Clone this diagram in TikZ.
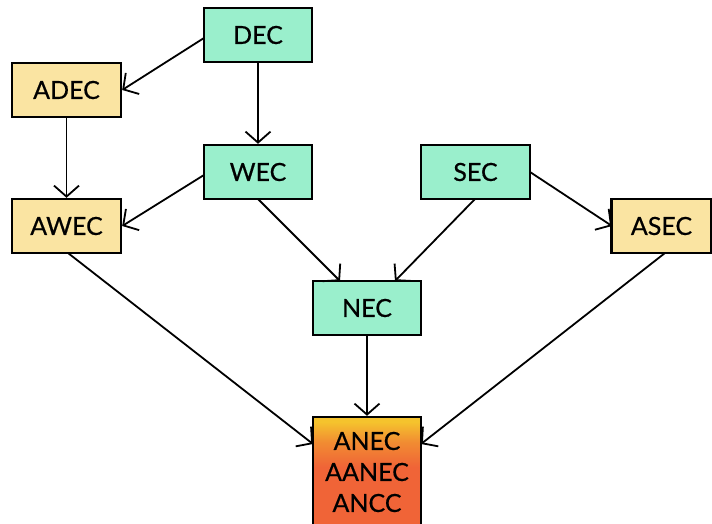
\documentclass[tikz,border=0pt]{standalone}
\usepackage{fontspec}
\setmainfont{Lato}[FakeBold=0.5]
\usetikzlibrary{arrows.meta}
\definecolor{gbox}{RGB}{154,239,204}
\definecolor{ybox}{RGB}{250,228,162}
\definecolor{otop}{RGB}{245,195,45}
\definecolor{omid}{RGB}{241,140,50}
\definecolor{obot}{RGB}{240,100,55}
\pgfdeclareverticalshading{anecshade}{100bp}{color(0bp)=(obot); color(25bp)=(obot); color(55bp)=(obot); color(65bp)=(omid); color(73bp)=(otop); color(100bp)=(otop)}
\begin{document}
\begin{tikzpicture}[x=1pt,y=-1pt,
  base/.style={draw=black,line width=2.4pt,minimum width=108pt,minimum height=54pt,inner sep=0pt,font=\fontsize{25}{29}\selectfont},
  gnode/.style={base,fill=gbox},
  ynode/.style={base,fill=ybox},
  arr/.style={-{Straight Barb[length=11pt,width=25pt,line width=1.8pt]},line width=1.8pt}]
\useasboundingbox (0,0) rectangle (712,524);
\node[gnode] (dec) at (258,35) {DEC};
\node[ynode,minimum width=109pt] (adec) at (66.5,90) {ADEC};
\node[gnode] (wec) at (258,172) {WEC};
\node[gnode,minimum width=109pt] (sec) at (475.5,172) {SEC};
\node[ynode,minimum width=109pt] (awec) at (66.5,226) {AWEC};
\node[ynode,minimum width=100pt] (asec) at (661.5,226) {ASEC};
\node[gnode] (nec) at (367,308) {NEC};
\node[base,minimum height=125pt,shading=anecshade] (anec) at (367,479.5) {};
\node[font=\fontsize{25}{31}\selectfont,align=center] (anect) at (367,472) {ANEC\\AANEC\\ANCC};
\coordinate (decL) at (204,38);
\coordinate (wecL) at (204,175);
\coordinate (wecB) at (258,199);
\coordinate (necT1) at (340,281);
\coordinate (secB) at (475,199);
\coordinate (necT2) at (395,281);
\coordinate (secR) at (530,172);
\coordinate (asecL) at (612,226);
\coordinate (anecL) at (313,444);
\coordinate (anecR) at (421,444);
\coordinate (asecB) at (665,253);
\coordinate (awecB) at (68,253);
\draw[arr] (decL) -- (adec.east);
\draw[arr] (dec.south) -- (wec.north);
\draw[arr] (adec.south) -- (awec.north);
\draw[arr] (wecL) -- (awec.east);
\draw[arr] (wecB) -- (necT1);
\draw[arr] (secB) -- (necT2);
\draw[arr] (secR) -- (asecL);
\draw[arr] (awecB) -- (anecL);
\draw[arr] (nec.south) -- (anec.north);
\draw[arr] (asecB) -- (anecR);
\end{tikzpicture}
\end{document}
